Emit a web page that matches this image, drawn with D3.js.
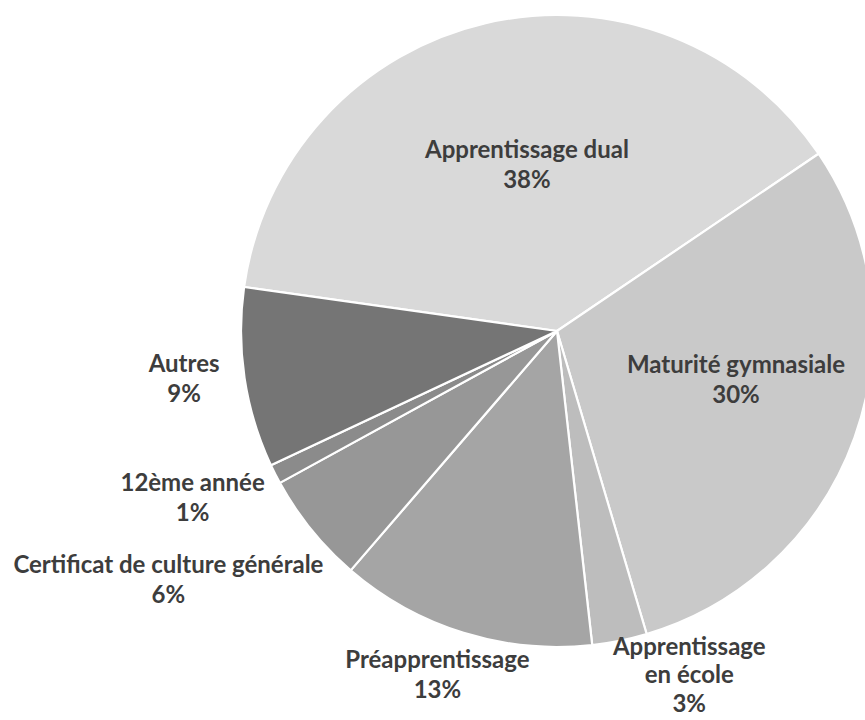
<!DOCTYPE html>
<html>
<meta charset="utf-8">
<style>
  body { margin: 0; background: #fff; }
  .slice_label {
    font-family: Lato, "Open Sans", sans-serif;
    font-size: 24px;
    font-weight: bold;
    fill: #3d3d3d;
  }
</style>
<body>
  <script src="https://d3js.org/d3.v7.min.js"></script>
  <script>

var width = 865
var height = 720

// categories, shares in percent, slice colours
var categories = ["Apprentissage dual", "Maturité gymnasiale", "Apprentissage en école",
  "Préapprentissage", "Certificat de culture générale", "12ème année", "Autres"]
var shares = [38.3, 29.9, 2.8, 13.1, 5.7, 1.0, 9.2]
var labelLines = [["Apprentissage dual"], ["Maturité gymnasiale"], ["Apprentissage", "en école"],
  ["Préapprentissage"], ["Certificat de culture générale"], ["12ème année"], ["Autres"]]
var colors = ["#d9d9d9", "#c9c9c9", "#bdbdbd", "#a5a5a5", "#979797", "#8b8b8b", "#757575"]

// label placement: radius factor and turn (degrees) from the slice's mid angle
var labelPlace = [[0.534, 2.8], [0.587, -4.5], [1.171, -9.5], [1.152, 2.0],
  [1.461, 6.3], [1.269, 2.25], [1.19, 1.15]]

var cx = 557, cy = 331, radius = 316
var startDeg = -82

var svg = d3.select("body")
  .append("svg")
  .attr("width", width)
  .attr("height", height);

var data = categories.map(function (c, i) { return { name: c, value: shares[i], i: i }; });

var pie = d3.pie()
  .sort(null)
  .value(function (d) { return d.value; })
  .startAngle(startDeg * Math.PI / 180)
  .endAngle(startDeg * Math.PI / 180 + 2 * Math.PI);

var arc = d3.arc().innerRadius(0).outerRadius(radius);

var arcs = pie(data);

var g = svg.append("g").attr("transform", "translate(" + cx + "," + cy + ")");

g.selectAll("path.slice")
  .data(arcs)
  .enter()
  .append("path")
    .attr("class", "slice")
    .attr("d", arc)
    .attr("fill", function (d) { return colors[d.data.i]; })
    .attr("stroke", "#fff")
    .attr("stroke-width", 2.2)
    .attr("stroke-linejoin", "round");

var lineH = 30;

var labels = g.selectAll("text.slice_label")
  .data(arcs)
  .enter()
  .append("text")
    .attr("class", "slice_label")
    .attr("text-anchor", "middle")
    .attr("transform", function (d) {
      var p = labelPlace[d.data.i];
      var a = (d.startAngle + d.endAngle) / 2 + p[1] * Math.PI / 180;
      var r = radius * p[0];
      var n = labelLines[d.data.i].length + 1;
      var x = Math.sin(a) * r;
      var y = -Math.cos(a) * r - (n - 1) * lineH / 2 + 8;
      return "translate(" + x + "," + y + ")";
    });

labels.each(function (d) {
  var t = d3.select(this);
  var lines = labelLines[d.data.i].concat([Math.round(d.data.value) + "%"]);
  lines.forEach(function (s, k) {
    t.append("tspan")
      .attr("x", 0)
      .attr("y", k * (d.data.i === 2 ? 28.5 : lineH))
      .text(s);
  });
});

  </script>
</body>
</html>
